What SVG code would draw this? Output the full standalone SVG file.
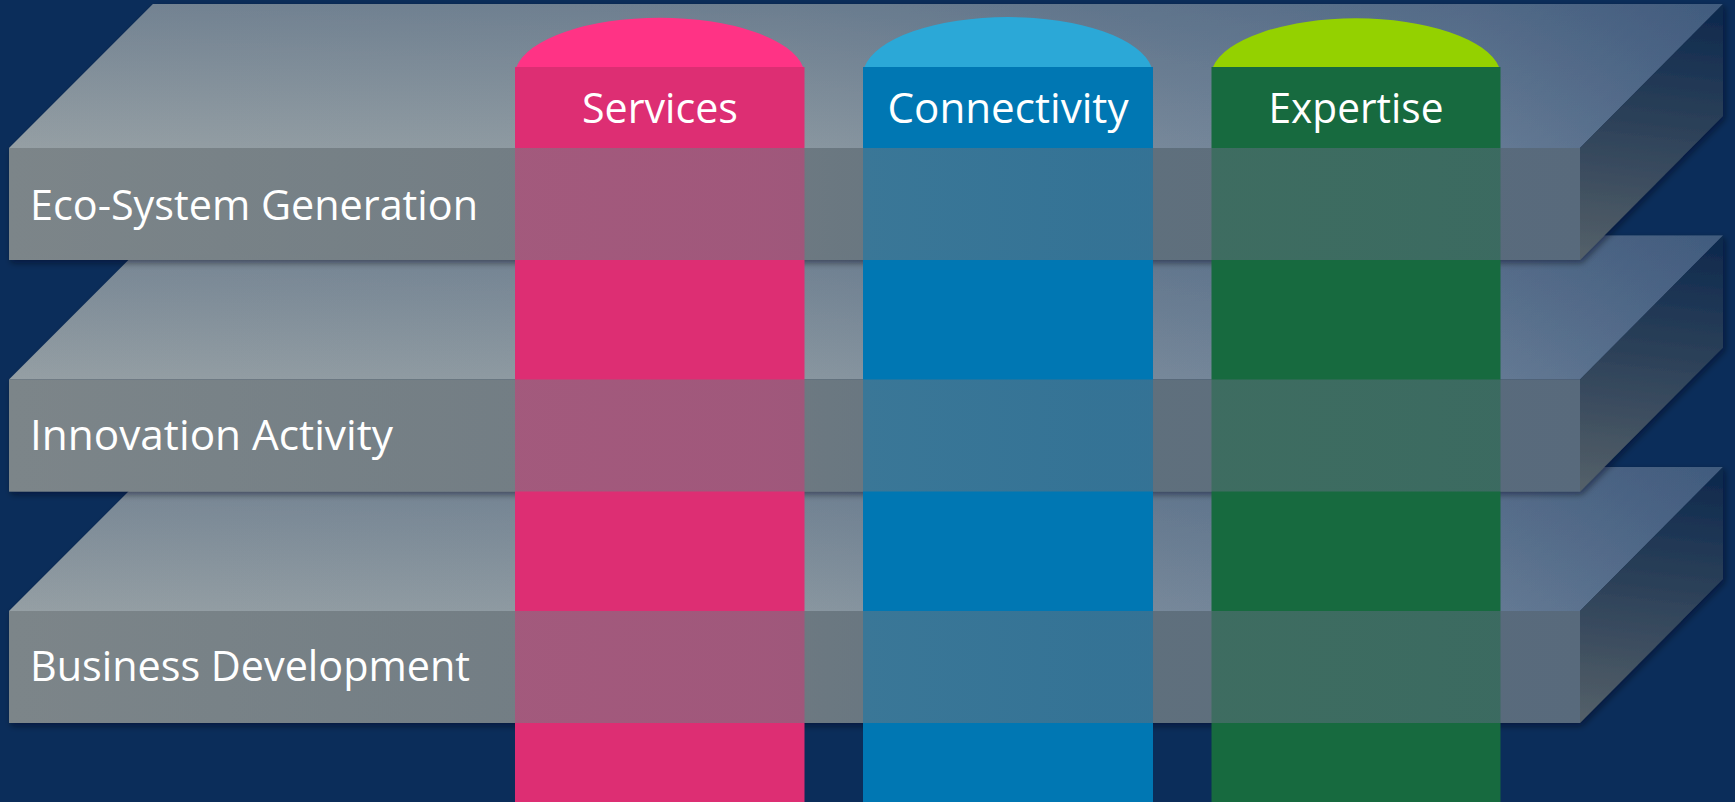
<svg xmlns="http://www.w3.org/2000/svg" width="1735" height="802" viewBox="0 0 1735 802">
<style>
.lbl{font-family:"Open Sans","Noto Sans","Liberation Sans",sans-serif;font-size:42px;fill:#FFFFFF;}
.col-lbl{text-anchor:middle;}
.top{fill:url(#topGrad);}
.topShade{fill:url(#topShade);}
.side{fill:url(#sideGrad);}
.frontBody{fill:url(#frontGrad);}
.frontOver{fill:url(#frontGrad);fill-opacity:0.55;}
</style>
<defs>
<linearGradient id="topGrad" gradientUnits="userSpaceOnUse" x1="9" y1="0" x2="1723" y2="0">
<stop offset="0" stop-color="#959FA4"/>
<stop offset="0.45" stop-color="#8A97A0"/>
<stop offset="0.85" stop-color="#677C95"/>
<stop offset="1" stop-color="#4E6788"/>
</linearGradient>
<linearGradient id="topShade" gradientUnits="userSpaceOnUse" x1="0" y1="148" x2="0" y2="4">
<stop offset="0" stop-color="#1E3C64" stop-opacity="0"/>
<stop offset="1" stop-color="#1E3C64" stop-opacity="0.28"/>
</linearGradient>
<linearGradient id="sideGrad" gradientUnits="userSpaceOnUse" x1="1660" y1="8" x2="1630" y2="260">
<stop offset="0" stop-color="#0F2A4E"/>
<stop offset="0.5" stop-color="#2F435A"/>
<stop offset="1" stop-color="#535F68"/>
</linearGradient>
<linearGradient id="frontGrad" gradientUnits="userSpaceOnUse" x1="9" y1="0" x2="1580" y2="0">
<stop offset="0" stop-color="#7C8589"/>
<stop offset="0.48" stop-color="#6E7A82"/>
<stop offset="0.69" stop-color="#60707D"/>
<stop offset="1" stop-color="#586A7C"/>
</linearGradient>
<filter id="shadow" x="-5%" y="-10%" width="110%" height="130%">
<feDropShadow dx="2" dy="3" stdDeviation="3" flood-color="#000814" flood-opacity="0.45"/>
</filter>
</defs>

<rect x="0" y="0" width="1735" height="802" fill="#0B2D5A"/>

<!-- Layer bodies (drawn bottom to top) -->
<g id="layer-business-development" transform="translate(0,463)" filter="url(#shadow)">
<polygon class="top" points="9,148 153,4 1723,4 1580,148"/>
<polygon class="topShade" points="9,148 153,4 1723,4 1580,148"/>
<polygon class="side" points="1580,148 1723,4 1723,116 1580,260"/>
<rect class="frontBody" x="9" y="148" width="1571" height="112"/>
</g>
<g id="layer-innovation-activity" transform="translate(0,231.5)" filter="url(#shadow)">
<polygon class="top" points="9,148 153,4 1723,4 1580,148"/>
<polygon class="topShade" points="9,148 153,4 1723,4 1580,148"/>
<polygon class="side" points="1580,148 1723,4 1723,116 1580,260"/>
<rect class="frontBody" x="9" y="148" width="1571" height="112"/>
</g>
<g id="layer-eco-system-generation" filter="url(#shadow)">
<polygon class="top" points="9,148 153,4 1723,4 1580,148"/>
<polygon class="topShade" points="9,148 153,4 1723,4 1580,148"/>
<polygon class="side" points="1580,148 1723,4 1723,116 1580,260"/>
<rect class="frontBody" x="9" y="148" width="1571" height="112"/>
</g>

<!-- Columns -->
<g id="column-services">
<path d="M516.5,67 A145,58.3 0 0 1 803,67 Z" fill="#FF3385"/>
<rect x="515" y="67" width="289.5" height="735" fill="#DD2E73"/>
<text class="lbl col-lbl" x="660" y="123" textLength="156" lengthAdjust="spacingAndGlyphs">Services</text>
</g>
<g id="column-connectivity">
<path d="M864.5,67 A145,58.3 0 0 1 1151.5,67 Z" fill="#2BA8D7"/>
<rect x="863" y="67" width="290" height="735" fill="#0077B3"/>
<text class="lbl col-lbl" x="1008" y="123" textLength="241" lengthAdjust="spacingAndGlyphs">Connectivity</text>
</g>
<g id="column-expertise">
<path d="M1213,67 A145,58.3 0 0 1 1499,67 Z" fill="#94D100"/>
<rect x="1211.5" y="67" width="289" height="735" fill="#176A3F"/>
<text class="lbl col-lbl" x="1356" y="123" textLength="175" lengthAdjust="spacingAndGlyphs">Expertise</text>
</g>

<!-- Translucent front faces with layer labels -->
<g id="front-business-development" transform="translate(0,463)">
<rect class="frontOver" x="9" y="148" width="1571" height="112"/>
<text class="lbl" x="30" y="218" textLength="440" lengthAdjust="spacingAndGlyphs">Business Development</text>
</g>
<g id="front-innovation-activity" transform="translate(0,231.5)">
<rect class="frontOver" x="9" y="148" width="1571" height="112"/>
<text class="lbl" x="30" y="218.5" textLength="363" lengthAdjust="spacingAndGlyphs">Innovation Activity</text>
</g>
<g id="front-eco-system-generation">
<rect class="frontOver" x="9" y="148" width="1571" height="112"/>
<text class="lbl" x="30" y="220" textLength="448" lengthAdjust="spacingAndGlyphs">Eco-System Generation</text>
</g>
</svg>
